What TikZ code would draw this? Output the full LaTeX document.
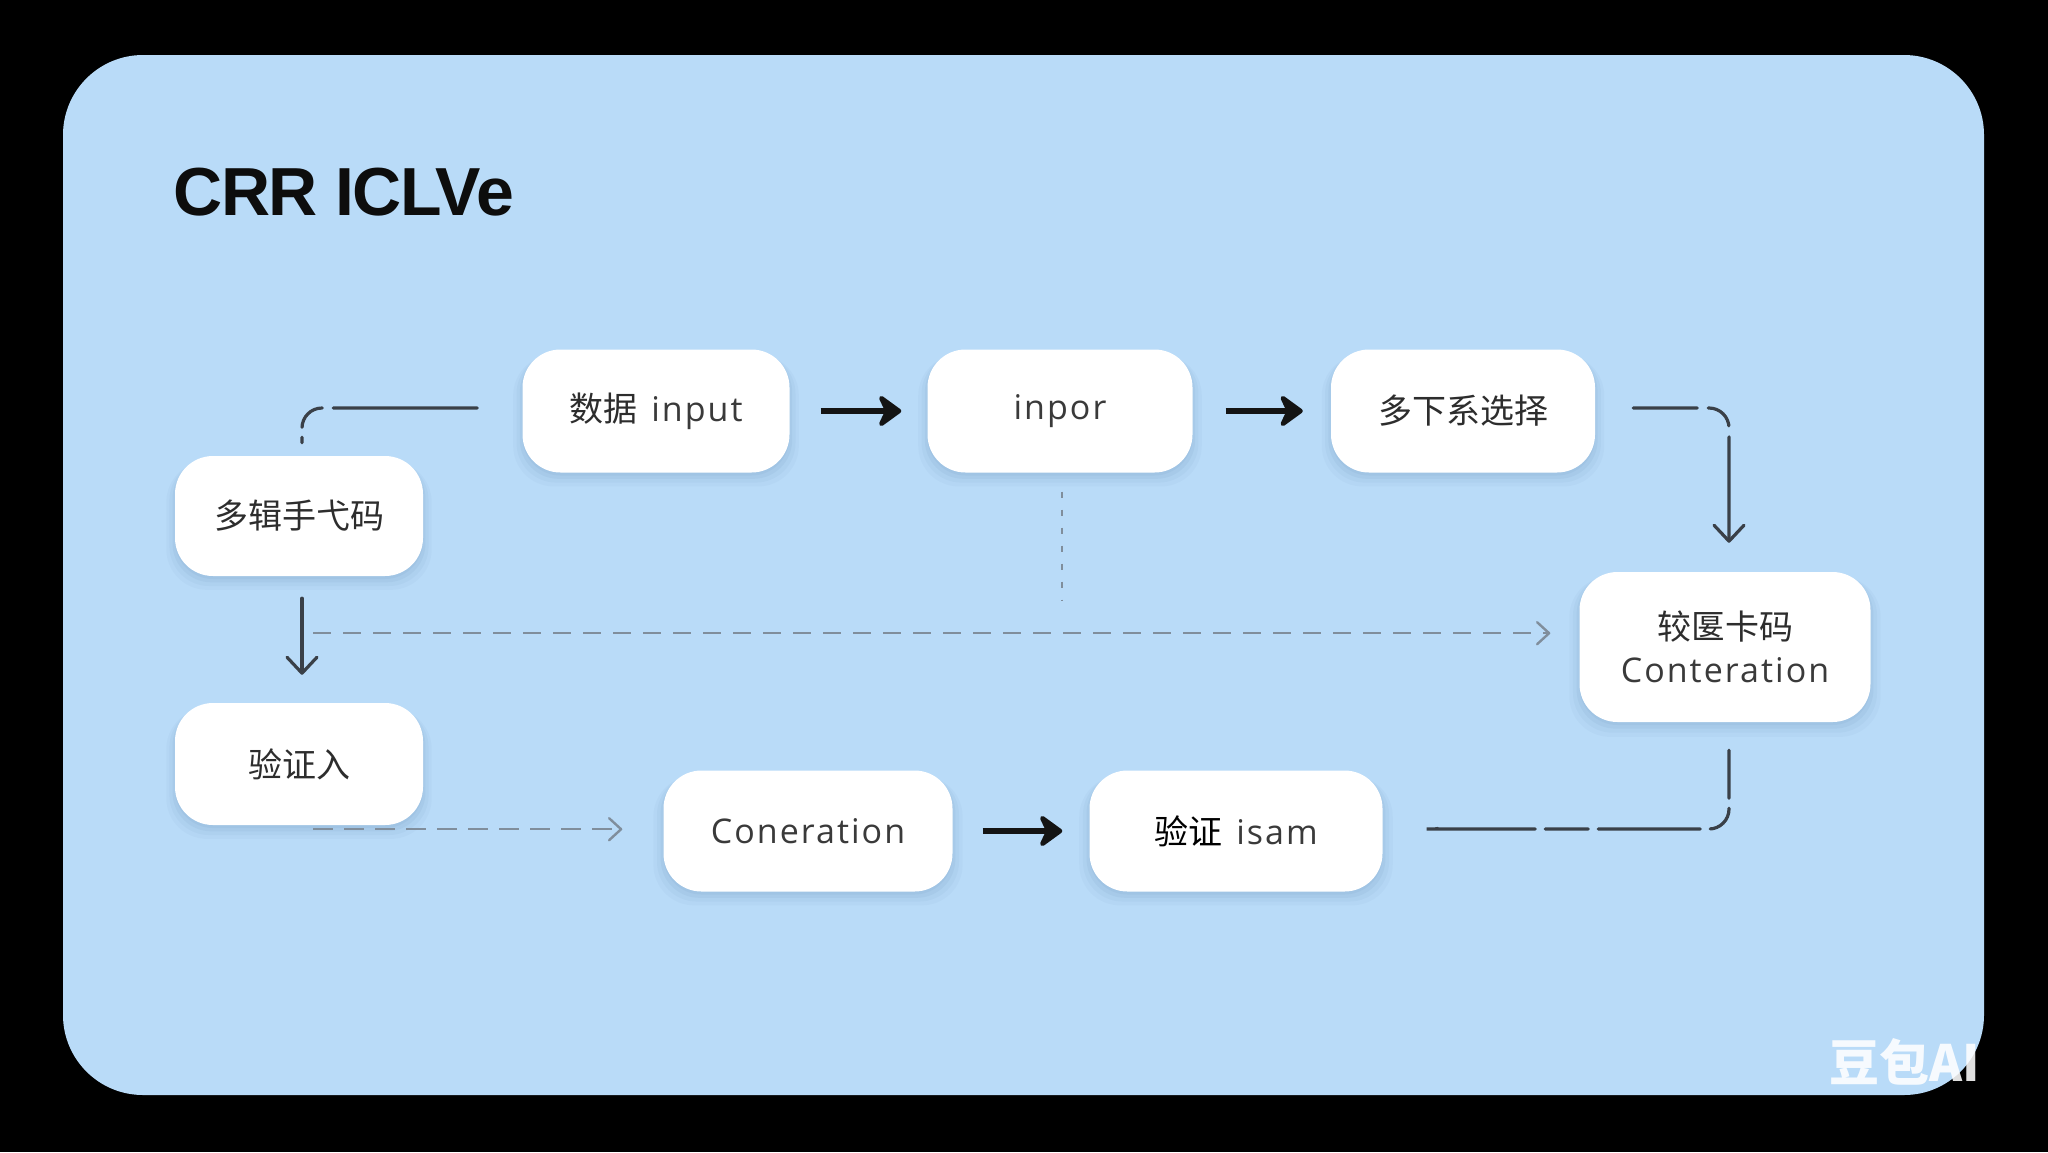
\documentclass[tikz,border=0pt]{standalone}
\usepackage{fontspec}
\setmainfont{Open Sans}[LetterSpace=6]
\newfontfamily\cjk{Noto Sans CJK SC}
\newfontfamily\titlefont{Liberation Sans}[LetterSpace=-2]
\usetikzlibrary{arrows.meta,shadows,calc}
\definecolor{panel}{RGB}{185,219,248}
\definecolor{txt}{RGB}{45,45,45}
\definecolor{lat}{RGB}{58,58,58}
\definecolor{conn}{RGB}{58,64,72}
\definecolor{dash}{RGB}{128,142,156}
\definecolor{shade}{RGB}{60,100,150}
\begin{document}
\begin{tikzpicture}[x=1pt,y=-1pt,
  box/.style={fill=white, rounded corners=38pt, inner sep=0pt, text=lat,
    font=\fontsize{34}{43}\selectfont, align=center,
    general shadow={shadow yshift=-9pt, shadow scale=1.07, opacity=0.035, fill=shade},
    general shadow={shadow yshift=-7pt, shadow scale=1.045, opacity=0.045, fill=shade},
    general shadow={shadow yshift=-5pt, shadow scale=1.02, opacity=0.06, fill=shade},
    general shadow={shadow yshift=-3pt, opacity=0.06, fill=shade}},
  thickarrow/.style={draw=black!92, line width=6pt,
    -{Stealth[length=27pt,width=39pt,inset=9pt,round]}},
  thinline/.style={draw=conn, line width=3.2pt, line cap=round},
  thintip/.style={-{Straight Barb[length=16pt,width=30pt,line width=3.2pt,round]}},
  grayline/.style={draw=dash, line width=2.4pt},
  graytip/.style={-{Straight Barb[length=12pt,width=22pt,line width=2.4pt,round]}}
]
\useasboundingbox (0,0) rectangle (2048,1152);
\fill[black] (0,0) rectangle (2048,1152);
\fill[panel, rounded corners=80pt] (63,55) rectangle (1984,1095);

% title
\node[anchor=base west, inner sep=0pt, text=black!95,
  font=\titlefont\bfseries\fontsize{68}{80}\selectfont] (title) at (173,215) {CRR ICLVe};

% nodes
\node[box, minimum width=248pt, minimum height=120pt] (n1) at (299,516) {{\color{txt}\cjk 多辑手弋码}};
\node[box, minimum width=267pt, minimum height=123pt] (n2) at (656,411) {{\color{txt}\cjk 数据}\hspace{14pt}input};
\node[box, minimum width=265pt, minimum height=123pt] (n3) at (1060,411) {inpor};
\node[box, minimum width=264pt, minimum height=123pt] (n4) at (1463,411) {{\color{txt}\cjk 多下系选择}};
\node[box, minimum width=291pt, minimum height=150pt] (n5) at (1725,647) {{\color{txt}\cjk 较匽卡码}\\Conteration};
\node[box, minimum width=248pt, minimum height=122pt] (n6) at (299,764) {{\color{txt}\cjk 验证入}};
\node[box, minimum width=289pt, minimum height=121pt] (n7) at (808,831) {Coneration};
\node[box, minimum width=293pt, minimum height=121pt] (n8) at (1236,831) {{\color{black}\cjk 验证}\hspace{14pt}isam};

% thick arrows
\draw[thickarrow] ($(n2.east)+(31,0)$) -- ($(n3.west)+(-26,0)$);
\draw[thickarrow] ($(n3.east)+(33,0)$) -- ($(n4.west)+(-28,0)$);
\draw[thickarrow] ($(n7.east)+(30,0)$) -- ($(n8.west)+(-27,0)$);

% n2 -> n1 (no head)
\coordinate (e1) at ($(n2.west)+(-45,-3)$);
\coordinate (e3) at ($(n1.north)+(3,-13)$);
\draw[thinline, rounded corners=20pt, dash pattern=on 144pt off 11pt on 31pt off 10pt on 20pt]
  (e1) -- (e1 -| e3) -- (e3);

% n4 -> n5
\coordinate (d1) at ($(n4.east)+(38,-3)$);
\coordinate (d3) at ($(n5.north)+(4,-29)$);
\draw[thinline, thintip, rounded corners=20pt, dash pattern=on 64pt off 11pt on 30pt off 11pt on 300pt]
  (d1) -- (d1 -| d3) -- (d3);

% n1 -> n6
\draw[thinline, thintip] ($(n1.south)+(3,22)$) -- ($(n6.north)+(3,-28)$);

% n5 -> n8 (returning line)
\coordinate (j1) at ($(n5.south)+(4,28)$);
\coordinate (j3) at ($(n8.east)+(64,-2)$);
\draw[thinline, rounded corners=20pt,
  dash pattern=on 48pt off 10pt on 31pt off 10pt on 102pt off 10pt on 43pt off 10pt on 120pt]
  (j1) -- (j1 |- j3) -- (j3) .. controls ($(j3)+(-6,0)$) .. ($(j3)+(-8,-6)$);

% long dashed gray arrow n1 -> n5
\coordinate (g1) at ($(n1.south)+(14,57)$);
\draw[grayline, graytip, dash pattern=on 18pt off 12pt] (g1) -- (g1 -| {$(n5.west)+(-29,0)$});

% dotted from n3
\draw[grayline, line width=2.6pt, dash pattern=on 6pt off 12pt] ($(n3.south)+(2,19)$) -- ($(n3.south)+(2,128)$);

% dashed gray arrow n6 -> n7
\coordinate (i1) at ($(n6.south)+(14,4)$);
\draw[grayline, graytip, dash pattern=on 20pt off 11pt] (i1) -- (i1 -| {$(n7.west)+(-41,0)$});

% watermark
\node[inner sep=0pt, text=white, text opacity=0.88,
  font=\cjk\bfseries\fontsize{50}{56}\selectfont] (wm) at (1905,1062) {豆包AI};
\end{tikzpicture}
\end{document}
